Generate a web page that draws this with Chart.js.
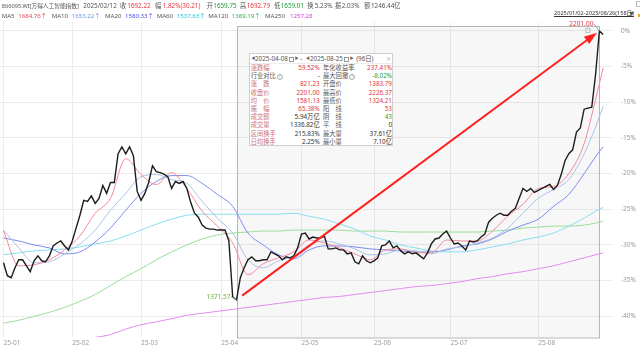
<!DOCTYPE html>
<html lang="zh-CN">
<head>
<meta charset="UTF-8">
<title>万得人工智能指数</title>
<script src="https://cdn.jsdelivr.net/npm/chart.js"></script>
<style>
    body { margin: 0; background: #fff; font-family: "Noto Sans", "Noto Sans CJK SC", sans-serif; }
    #wrap { position: relative; width: 640px; height: 350px; overflow: hidden; }
    #c { position: absolute; left: 0; top: 0; }
    .t { position: absolute; font-size: 6.5px; line-height: 8px; white-space: nowrap; color: #555; }
    .r { color: #e2353f; }
    .g { color: #22a03a; }
    .d { color: #333; }
    #range { left: 554px; top: 8.5px; font-size: 5.6px; color: #333; text-decoration: underline; }
    #box { position: absolute; left: 249px; top: 53px; width: 144px; height: 93px; box-sizing: border-box;
           border: 1px solid #cfcfcf; background: #fff; font-size: 6.3px; color: #555; z-index: 2; }
    #box .ttl { position: relative; height: 9px; line-height: 9px; border-bottom: 1px solid #ededed; }
    #box .ttl span { position: absolute; top: 0; white-space: nowrap; }
    #box .tri { font-size: 4px; color: #666; }
    #box .cal { display: inline-block; width: 3.6px; height: 3.6px; border: 0.7px solid #999; top: 2.5px !important; }
    .row { display: flex; height: 8.2px; line-height: 8.2px; padding-left: 0.7px; white-space: nowrap; }
    .half { width: 69.3px; display: flex; justify-content: space-between; }
    .half + .half { margin-left: 3.3px; }
    .lb { color: #c87373; }
    .lb2 { color: #555; }
    .q { display: inline-block; width: 4px; height: 4px; border: 0.6px solid #aaa; border-radius: 50%;
         font-size: 3.5px; line-height: 4px; text-align: center; color: #999; vertical-align: 0.3px; margin-left: 1px; font-style: normal; }
</style>
</head>
<body>
<div id="wrap">
    <canvas id="c" width="640" height="350"></canvas>
    <div class="t" id="range">2025/01/02-2025/08/26(158日)</div>
    <div class="t" style="left:629px;top:8.5px;font-size:5px;color:#555">▼</div>
    <div style="position:absolute;left:638px;top:14px;width:2px;height:3px;background:#f2a81d"></div>
    <div style="position:absolute;left:636px;top:1px;width:3px;height:4px;border:0.6px solid #bbb"></div>

    <div id="box">
        <div class="ttl">
            <span class="tri" style="left:1.2px">◀</span>
            <span style="left:5px">2025-04-08</span>
            <span class="cal" style="left:38.5px"></span>
            <span class="tri" style="left:44.7px">▶</span>
            <span style="left:50.2px">-</span>
            <span class="tri" style="left:55.7px">◀</span>
            <span style="left:60px">2025-08-25</span>
            <span class="cal" style="left:93.5px"></span>
            <span class="tri" style="left:99.7px">▶</span>
            <span style="left:106.2px">(96日)</span>
            <span style="left:136.2px;color:#bbb">✕</span>
        </div>
        <div class="row"><div class="half"><span class="lb">涨跌幅</span><span class="r">59.52%</span></div><div class="half"><span class="lb2">年化收益率</span><span class="r">237.41%</span></div></div>
        <div class="row"><div class="half"><span class="lb2">行业对比<i class="q">?</i></span><span class="d">-</span></div><div class="half"><span class="lb2">最大回撤<i class="q">?</i></span><span class="g">-8.02%</span></div></div>
        <div class="row"><div class="half"><span class="lb">涨　跌</span><span class="r">821.23</span></div><div class="half"><span class="lb2">开盘价</span><span class="r">1383.79</span></div></div>
        <div class="row"><div class="half"><span class="lb">收盘价</span><span class="r">2201.00</span></div><div class="half"><span class="lb2">最高价</span><span class="r">2226.37</span></div></div>
        <div class="row"><div class="half"><span class="lb">均　价</span><span class="r">1581.13</span></div><div class="half"><span class="lb2">最低价</span><span class="r">1324.21</span></div></div>
        <div class="row"><div class="half"><span class="lb">振　幅</span><span class="r">65.38%</span></div><div class="half"><span class="lb2">阳　线</span><span class="r">53</span></div></div>
        <div class="row"><div class="half"><span class="lb">成交额</span><span class="d">5.94万亿</span></div><div class="half"><span class="lb2">阴　线</span><span class="g">43</span></div></div>
        <div class="row"><div class="half"><span class="lb">成交量</span><span class="d">1336.82亿</span></div><div class="half"><span class="lb2">平　线</span><span class="d">0</span></div></div>
        <div class="row"><div class="half"><span class="lb">区间换手</span><span class="d">215.83%</span></div><div class="half"><span class="lb2">最大量</span><span class="d">37.61亿</span></div></div>
        <div class="row"><div class="half"><span class="lb">日均换手</span><span class="d">2.25%</span></div><div class="half"><span class="lb2">最小量</span><span class="d">7.10亿</span></div></div>
    </div>
</div>

<script>
// daily closes, 2025-01-02 .. 2025-08-26 (158 trading days)
const closeVals = [
    1485.7, 1445.9, 1439.8, 1470.4, 1494.9, 1494.9, 1476.5, 1458.2, 1491.8, 1507.1,
    1491.8, 1488.8, 1507.1, 1537.7, 1546.8, 1552.9, 1537.7, 1525.4, 1552.9, 1592.7,
    1632.4, 1678.3, 1675.2, 1692.22, 1669.1, 1684.4, 1724.1, 1699.7, 1733.3, 1733.3,
    1822.0, 1843.4, 1822.0, 1843.4, 1815.8, 1705.8, 1678.3, 1699.7, 1733.3, 1785.2,
    1767.0, 1763.9, 1759.0, 1751.6, 1715.0, 1736.4, 1730.3, 1736.4, 1715.0, 1672.1,
    1638.5, 1626.3, 1601.9, 1592.7, 1589.6, 1589.6, 1586.6, 1586.6, 1586.6, 1552.9,
    1379.77, 1371.57, 1439.8, 1470.4, 1494.9, 1504.0, 1491.8, 1491.8, 1494.9, 1494.9,
    1519.3, 1513.2, 1507.1, 1494.9, 1504.0, 1501.0, 1507.1, 1531.5, 1574.3, 1577.4,
    1559.1, 1565.2, 1562.1, 1562.1, 1568.2, 1528.5, 1528.5, 1531.5, 1525.4, 1525.4,
    1513.2, 1516.3, 1488.8, 1482.6, 1507.1, 1491.8, 1485.7, 1491.8, 1501.0, 1537.7,
    1540.7, 1552.9, 1531.5, 1537.7, 1522.4, 1513.2, 1519.3, 1513.2, 1516.3, 1507.1,
    1497.9, 1516.3, 1543.8, 1559.1, 1562.1, 1574.3, 1583.5, 1562.1, 1543.8, 1546.8,
    1537.7, 1525.4, 1552.9, 1549.9, 1552.9, 1565.2, 1574.3, 1611.0, 1623.3, 1632.4,
    1638.5, 1632.4, 1632.4, 1644.7, 1653.8, 1684.4, 1715.0, 1705.8, 1715.0, 1702.7,
    1708.8, 1715.0, 1721.1, 1727.2, 1711.9, 1724.1, 1757.8, 1800.5, 1822.0, 1834.2,
    1889.2, 1901.4, 1959.5, 1962.6, 1965.6, 2066.5, 2201.00, 2190.0
];

// moving averages, read every few trading days (day index in maIdx)
const maIdx = [0, 4, 8, 12, 16, 20, 24, 28, 32, 36, 40, 44, 48, 52, 56, 60, 64, 68, 72, 76,
               80, 84, 88, 92, 96, 100, 104, 108, 112, 116, 120, 124, 128, 132, 136, 140, 144, 148, 152, 155, 157];
const ma5 = [1583.5, 1476.5, 1479.6, 1494.9, 1525.4, 1568.2, 1638.5, 1684.4, 1806.7, 1757.8,
             1727.2, 1763.9, 1715.0, 1644.7, 1598.8, 1546.8, 1449.0, 1482.6, 1501.0, 1519.3,
             1556.0, 1546.8, 1531.5, 1513.2, 1494.9, 1525.4, 1528.5, 1516.3, 1516.3, 1556.0,
             1552.9, 1552.9, 1583.5, 1629.4, 1666.1, 1715.0, 1721.1, 1760.8, 1852.5, 1990.1, 2087.9];
const ma10 = [1586.6, 1531.5, 1485.7, 1488.8, 1513.2, 1543.8, 1586.6, 1647.7, 1699.7, 1751.6,
              1757.8, 1742.5, 1730.3, 1675.2, 1623.3, 1577.4, 1494.9, 1470.4, 1491.8, 1507.1,
              1540.7, 1552.9, 1543.8, 1528.5, 1510.2, 1513.2, 1525.4, 1522.4, 1513.2, 1528.5,
              1534.6, 1546.8, 1562.1, 1592.7, 1638.5, 1684.4, 1711.9, 1742.5, 1822.0, 1904.5, 1968.7];
const ma20 = [1562.1, 1552.9, 1540.7, 1531.5, 1513.2, 1519.3, 1549.9, 1592.7, 1647.7, 1699.7,
              1736.4, 1754.7, 1754.7, 1730.3, 1696.6, 1659.9, 1577.4, 1540.7, 1510.2, 1497.9,
              1525.4, 1537.7, 1537.7, 1534.6, 1528.5, 1525.4, 1522.4, 1519.3, 1519.3, 1525.4,
              1537.7, 1543.8, 1559.1, 1583.5, 1601.9, 1620.2, 1659.9, 1696.6, 1760.8, 1812.8, 1843.4];
const ma60 = [1510.2, 1516.3, 1522.4, 1525.4, 1528.5, 1534.6, 1543.8, 1552.9, 1568.2, 1586.6,
              1604.9, 1620.2, 1632.4, 1635.5, 1635.5, 1635.5, 1635.5, 1635.5, 1635.5, 1638.5,
              1629.4, 1620.2, 1604.9, 1589.6, 1568.2, 1556.0, 1540.7, 1531.5, 1522.4, 1519.3,
              1519.3, 1525.4, 1534.6, 1543.8, 1556.0, 1565.2, 1577.4, 1598.8, 1623.3, 1644.7, 1656.9];
const ma120 = [1299.2, 1308.4, 1320.6, 1332.8, 1348.1, 1366.5, 1387.9, 1415.4, 1442.9, 1467.4,
               1494.9, 1519.3, 1540.7, 1559.1, 1571.3, 1577.4, 1580.5, 1583.5, 1583.5, 1586.6,
               1586.6, 1586.6, 1586.6, 1583.5, 1583.5, 1583.5, 1580.5, 1580.5, 1580.5, 1580.5,
               1580.5, 1580.5, 1583.5, 1586.6, 1592.7, 1595.7, 1598.8, 1598.8, 1601.9, 1608.0, 1614.1];
const ma250 = [null, null, null, null, null, 1250.0, 1255.5, 1264.0, 1281.0, 1294.5,
               1303.8, 1313.0, 1323.7, 1329.8, 1335.9, 1342.0, 1348.1, 1354.2, 1360.4, 1366.5,
               1372.6, 1378.7, 1381.8, 1387.9, 1394.0, 1400.1, 1406.2, 1412.3, 1415.4, 1421.5,
               1427.6, 1436.8, 1442.9, 1452.1, 1458.2, 1467.4, 1476.5, 1488.8, 1501.0, 1510.2, 1516.3];

const monthIdx = [0, 18, 36, 57, 78, 97, 117, 140];
const monthLbl = ['25-01', '25-02', '25-03', '25-04', '25-05', '25-06', '25-07', '25-08'];
const pctTicks = [0, -5, -10, -15, -20, -25, -30, -35, -40];
const basePrice = 2201.00;        // 0% line
const lowIdx = 61, highIdx = 156; // 2025-04-08 .. 2025-08-25

// header readout for 2025/02/12: [text, left, class, font size]
const topRow = [
    ['866095.WI[万得人工智能指数]', 1.7, '', 5.7], ['2025/02/12', 83.3, '', 6.3],
    ['收', 120, '', 6.3], ['1692.22', 127.3, 'r', 6.3],
    ['幅', 155, '', 6.3], ['1.82%(30.21)', 162.7, 'r', 6.3],
    ['开', 206.7, '', 6.3], ['1659.75', 213.3, 'g', 6.3],
    ['高', 240, '', 6.3], ['1692.79', 246.7, 'r', 6.3],
    ['低', 274, '', 6.3], ['1659.01', 280.7, 'g', 6.3],
    ['换', 307.3, '', 6.3], ['5.23%', 314.7, '', 6.3],
    ['振', 335, '', 6.3], ['2.03%', 341.7, '', 6.3],
    ['额', 364.3, '', 6.3], ['1246.44亿', 371, '', 6.3]
];
const maRow = [
    ['MA5', 1.7, '#555'], ['1684.76↑', 18.3, '#e2465a'],
    ['MA10', 51.7, '#555'], ['1653.22↑', 71.7, '#5b9be6'],
    ['MA20', 105, '#555'], ['1580.33↑', 125, '#4a4af0'],
    ['MA60', 156.7, '#555'], ['1537.63↑', 176.7, '#22c0da'],
    ['MA120', 208.3, '#555'], ['1389.19↑', 231.7, '#3cb043'],
    ['MA250', 265, '#555'], ['1257.28', 290, '#d43fdb']
];

const wrap = document.getElementById('wrap');
topRow.forEach(([txt, left, cls, size]) => {
    const el = document.createElement('div');
    el.className = 't ' + cls;
    el.style.left = left + 'px';
    el.style.top = '1.5px';
    el.style.fontSize = size + 'px';
    el.textContent = txt;
    wrap.appendChild(el);
});
maRow.forEach(([txt, left, col]) => {
    const el = document.createElement('div');
    el.className = 't';
    el.style.left = left + 'px';
    el.style.top = '11.5px';
    el.style.fontSize = '6.1px';
    el.style.color = col;
    el.textContent = txt;
    wrap.appendChild(el);
});

const pts = (idx, vals) => idx.map((d, k) => ({ x: d, y: vals[k] }));

// selection box, min/max labels and the rise arrow
const marks = {
    id: 'marks',
    beforeDatasetsDraw(chart) {
        const { ctx, scales: { x } } = chart;
        const x1 = Math.round(x.getPixelForValue(lowIdx)) + 0.5;
        const x2 = Math.round(x.getPixelForValue(highIdx)) + 0.5;
        ctx.save();
        ctx.fillStyle = 'rgba(0,0,0,0.03)';
        ctx.fillRect(x1, 26.5, x2 - x1, 311.5);
        ctx.strokeStyle = '#b6b6b6';
        ctx.lineWidth = 1;
        ctx.strokeRect(x1, 26.5, x2 - x1, 311.5);
        ctx.restore();
    },
    afterDatasetsDraw(chart) {
        const { ctx, scales: { x, y } } = chart;
        const lx = x.getPixelForValue(lowIdx), ly = y.getPixelForValue(closeVals[lowIdx]);
        const hx = x.getPixelForValue(highIdx), hy = y.getPixelForValue(closeVals[highIdx]);
        const dx = hx - lx, dy = hy - ly, len = Math.hypot(dx, dy);
        const ux = dx / len, uy = dy / len;
        const sx = lx + ux * 7, sy = ly + uy * 7;
        const ex = hx - ux * 3, ey = hy - uy * 3;
        const bx = ex - ux * 13, by = ey - uy * 13;
        ctx.save();
        ctx.strokeStyle = '#ff2020';
        ctx.fillStyle = '#ff2020';
        ctx.lineWidth = 2;
        ctx.beginPath();
        ctx.moveTo(sx, sy);
        ctx.lineTo(bx + ux * 2, by + uy * 2);
        ctx.stroke();
        ctx.beginPath();
        ctx.moveTo(ex, ey);
        ctx.lineTo(bx - uy * 4.5, by + ux * 4.5);
        ctx.lineTo(bx + uy * 4.5, by - ux * 4.5);
        ctx.closePath();
        ctx.fill();

        ctx.font = '6.5px "Noto Sans"';
        ctx.textBaseline = 'middle';
        ctx.textAlign = 'right';
        ctx.lineWidth = 1;
        // lowest close
        ctx.fillStyle = '#72b043';
        ctx.fillText(closeVals[lowIdx].toFixed(2), lx - 6, ly - 3);
        ctx.strokeStyle = '#8aaab0';
        ctx.beginPath();
        ctx.moveTo(lx - 5.5, ly - 3);
        ctx.lineTo(lx, ly);
        ctx.stroke();
        // highest close
        ctx.fillStyle = '#e2353f';
        ctx.fillText(closeVals[highIdx].toFixed(2), hx - 6, hy - 7);
        ctx.beginPath();
        ctx.moveTo(hx - 5.5, hy - 7);
        ctx.lineTo(hx, hy);
        ctx.stroke();
        ctx.strokeStyle = '#bbb';
        ctx.strokeRect(hx - 13.5, hy - 2.5, 4, 4);
        ctx.restore();
    }
};

const line = (label, data, color, width) => ({
    label, data, borderColor: color, borderWidth: width,
    pointRadius: 0, fill: false, cubicInterpolationMode: 'monotone'
});

new Chart(document.getElementById('c'), {
    type: 'line',
    data: {
        datasets: [
            { ...line('收盘', closeVals.map((v, i) => ({ x: i, y: v })), '#1c1c1c', 1.4), cubicInterpolationMode: 'default', tension: 0 },
            line('MA5', pts(maIdx, ma5), '#f1899b', 1),
            line('MA10', pts(maIdx, ma10), '#a9c3e6', 1),
            line('MA20', pts(maIdx, ma20), '#7d8bf2', 1),
            line('MA60', pts(maIdx, ma60), '#86def0', 1),
            line('MA120', pts(maIdx, ma120), '#9bdc9b', 1),
            line('MA250', pts(maIdx, ma250), '#e48af2', 1)
        ]
    },
    options: {
        responsive: false,
        animation: false,
        devicePixelRatio: 1,
        layout: { padding: { top: 22, left: 0, right: 0, bottom: 0 } },
        plugins: { legend: { display: false }, tooltip: { enabled: false } },
        scales: {
            x: {
                type: 'linear',
                min: -0.92,
                max: 159.3,
                afterBuildTicks: s => { s.ticks = monthIdx.map(v => ({ value: v })); },
                afterFit: s => { s.height = 10; },
                grid: { color: '#ececec', drawTicks: false },
                border: { display: false },
                ticks: {
                    autoSkip: false, maxRotation: 0, align: 'start', padding: 2,
                    color: '#9a9a9a', font: { size: 6.5, family: 'Noto Sans' },
                    callback: (v, i) => monthLbl[i]
                }
            },
            y: {
                position: 'right',
                min: 1256.4,
                max: 2228.5,
                afterBuildTicks: s => { s.ticks = pctTicks.map(p => ({ value: basePrice * (1 + p / 100) })); },
                afterFit: s => { s.width = 28; },
                grid: { color: '#ececec', drawTicks: false },
                border: { display: false },
                ticks: {
                    padding: 9, color: '#9a9a9a', font: { size: 6.5, family: 'Noto Sans' },
                    callback: (v, i) => pctTicks[i] + '%'
                }
            }
        }
    },
    plugins: [marks]
});
</script>
</body>
</html>
